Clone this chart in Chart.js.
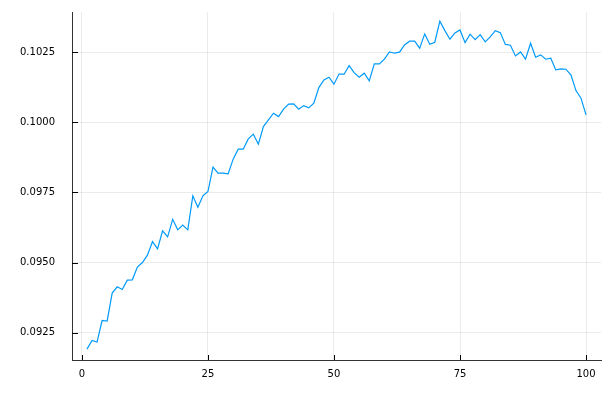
<!DOCTYPE html>
<html>
<head>
<meta charset="utf-8">
<script src="https://cdn.jsdelivr.net/npm/chart.js@4/dist/chart.umd.min.js"></script>
<style>
html,body{margin:0;padding:0;background:#fff;}
canvas{display:block;}
</style>
</head>
<body>
<canvas id="c" width="614" height="393"></canvas>
<script>
const xValues = Array.from({length: 100}, (_, i) => i + 1);
const yValues = [
  0.091917, 0.092223, 0.092166, 0.092935, 0.092914, 0.093911, 0.094135, 0.094039, 0.094374, 0.094384,
  0.094837, 0.095000, 0.095264, 0.095748, 0.095488, 0.096129, 0.095915, 0.096539, 0.096165, 0.096332,
  0.096165, 0.097376, 0.096973, 0.097376, 0.097529, 0.098398, 0.098184, 0.098184, 0.098159, 0.098682,
  0.099039, 0.099039, 0.099405, 0.099573, 0.099217, 0.099843, 0.100082, 0.100320, 0.100199, 0.100463,
  0.100641, 0.100652, 0.100463, 0.100591, 0.100509, 0.100677, 0.101232, 0.101506, 0.101602, 0.101353,
  0.101713, 0.101709, 0.102016, 0.101766, 0.101602, 0.101745, 0.101471, 0.102076, 0.102076, 0.102243,
  0.102503, 0.102457, 0.102493, 0.102753, 0.102884, 0.102884, 0.102635, 0.103144, 0.102778, 0.102849,
  0.103597, 0.103262, 0.102956, 0.103180, 0.103287, 0.102835, 0.103134, 0.102941, 0.103119, 0.102860,
  0.103038, 0.103262, 0.103191, 0.102770, 0.102742, 0.102361, 0.102503, 0.102243, 0.102813, 0.102315,
  0.102397, 0.102243, 0.102279, 0.101862, 0.101898, 0.101887, 0.101684, 0.101125, 0.100855, 0.100260
];
const xTickValues = [0, 25, 50, 75, 100];
const xTickLabels = ['0', '25', '50', '75', '100'];
const yTickValues = [0.0925, 0.0950, 0.0975, 0.1000, 0.1025];
const yTickLabels = ['0.0925', '0.0950', '0.0975', '0.1000', '0.1025'];

const FONT = {family: '"DejaVu Sans", sans-serif', size: 10};

const innerTicks = {
  id: 'innerTicks',
  afterDatasetsDraw(chart) {
    const ctx = chart.ctx;
    const xs = chart.scales.x, ys = chart.scales.y;
    const a = chart.chartArea;
    ctx.save();
    ctx.strokeStyle = '#000';
    ctx.lineWidth = 1;
    ctx.beginPath();
    yTickValues.forEach(v => {
      const py = Math.round(ys.getPixelForValue(v)) + 0.5;
      ctx.moveTo(a.left, py);
      ctx.lineTo(a.left + 6, py);
    });
    xTickValues.forEach(v => {
      const px = Math.round(xs.getPixelForValue(v)) + 0.5;
      ctx.moveTo(px, a.bottom);
      ctx.lineTo(px, a.bottom - 5);
    });
    ctx.stroke();
    ctx.restore();
  }
};

new Chart(document.getElementById('c'), {
  type: 'line',
  data: {
    datasets: [{
      data: xValues.map((x, i) => ({x: x, y: yValues[i]})),
      borderColor: '#009AFA',
      borderWidth: 1.2,
      pointRadius: 0,
      tension: 0,
      fill: false
    }]
  },
  options: {
    responsive: false,
    animation: false,
    layout: {padding: {left: 0, top: 12, right: 13, bottom: 0}},
    plugins: {legend: {display: false}, tooltip: {enabled: false}},
    scales: {
      x: {
        type: 'linear',
        min: -1.97,
        max: 102.97,
        afterBuildTicks: s => { s.ticks = xTickValues.map(v => ({value: v})); },
        afterFit: s => { s.height = 33; s.paddingLeft = 0; s.paddingRight = 0; },
        grid: {color: 'rgba(0,0,0,0.08)', lineWidth: 1, drawTicks: false},
        border: {display: true, color: '#333', width: 1},
        ticks: {
          padding: 8,
          color: '#000',
          font: FONT,
          maxRotation: 0,
          callback: (v) => { const k = xTickValues.indexOf(v); return k >= 0 ? xTickLabels[k] : ''; }
        }
      },
      y: {
        type: 'linear',
        min: 0.091528,
        max: 0.103925,
        afterBuildTicks: s => { s.ticks = yTickValues.map(v => ({value: v})); },
        afterFit: s => { s.width = 72; s.paddingTop = 0; s.paddingBottom = 0; },
        grid: {color: 'rgba(0,0,0,0.08)', lineWidth: 1, drawTicks: false},
        border: {display: true, color: '#333', width: 1},
        ticks: {
          padding: 17,
          color: '#000',
          font: FONT,
          callback: (v) => {
            let k = -1;
            yTickValues.forEach((t, i) => { if (Math.abs(t - v) < 1e-9) k = i; });
            return k >= 0 ? yTickLabels[k] : '';
          }
        }
      }
    }
  },
  plugins: [innerTicks]
});
</script>
</body>
</html>
